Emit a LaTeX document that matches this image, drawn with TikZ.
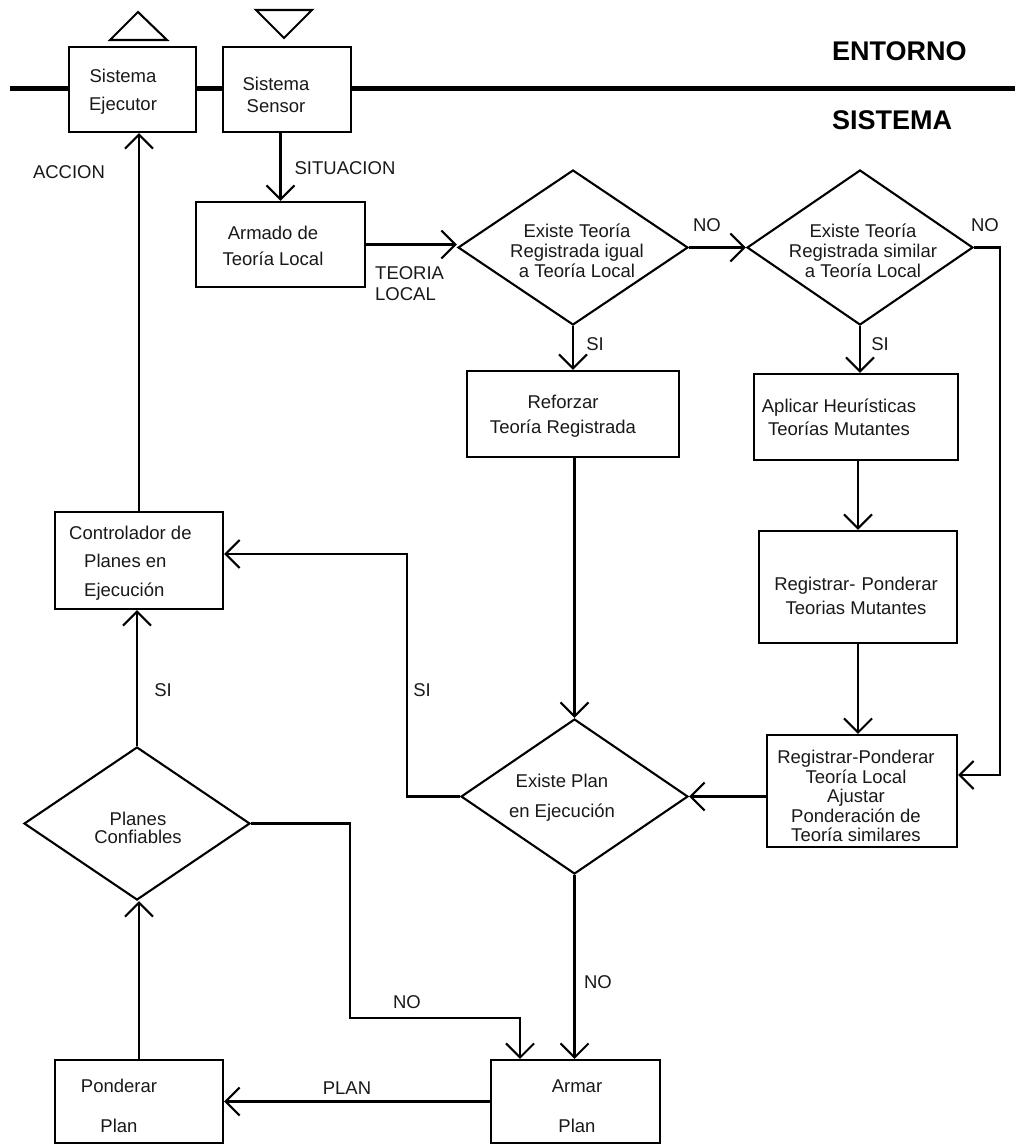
\documentclass[tikz,border=0pt]{standalone}
\usepackage{fontspec}
\setmainfont{Liberation Sans}
\usetikzlibrary{arrows.meta,shapes.geometric}
\begin{document}
\begin{tikzpicture}[x=1pt,y=-1pt,
  font=\fontsize{18.5}{20}\selectfont,
  box/.style={draw, fill=white, line width=2.1pt, inner sep=0pt},
  dia/.style={draw, diamond, line width=2.1pt, inner sep=0pt},
  txt/.style={inner sep=0pt, align=center, text=black!90},
  lbl/.style={inner sep=0pt, text=black!90},
  conn/.style={line width=2.1pt, -{Straight Barb[length=14pt,width=28pt]}},
  plain/.style={line width=2.1pt},
  head/.style={inner sep=0pt, anchor=west, font=\fontsize{27}{30}\selectfont\bfseries},
]
\useasboundingbox (0,0) rectangle (1015,1145);

% environment / system separator
\draw[line width=5pt] (10,89) -- (1015,89);
\node[head] (entorno) at (832,51) {ENTORNO};
\node[head] (sistema) at (832,120) {SISTEMA};

% triangles
\draw[plain] (110,40) -- (138,12) -- (167,40) -- cycle;
\draw[plain] (256,10) -- (312,10) -- (284,38) -- cycle;

% boxes
\node[box, minimum width=127pt, minimum height=85pt] (ejec) at (132.5,89.5) {};
\node[box, minimum width=128pt, minimum height=85pt] (sens) at (287,89.5) {};
\node[box, minimum width=169pt, minimum height=85pt] (armado) at (280.5,244.5) {};
\node[box, minimum width=212pt, minimum height=86pt] (refz) at (573,414) {};
\node[box, minimum width=204pt, minimum height=86pt] (apl) at (856,417) {};
\node[box, minimum width=198pt, minimum height=112pt] (regm) at (858,587) {};
\node[box, minimum width=190pt, minimum height=112pt] (rp) at (862,791) {};
\node[box, minimum width=168pt, minimum height=97pt] (ctrl) at (139,560.5) {};
\node[box, minimum width=168pt, minimum height=83pt] (pond) at (139,1101.5) {};
\node[box, minimum width=169pt, minimum height=83pt] (armar) at (575.5,1101.5) {};

% diamonds
\node[dia, minimum width=230pt, minimum height=155pt] (d1) at (573,247.5) {};
\node[dia, minimum width=226pt, minimum height=155pt] (d2) at (860,247.5) {};
\node[dia, minimum width=227pt, minimum height=155pt] (d3) at (574.5,796.5) {};
\node[dia, minimum width=226pt, minimum height=153pt] (d4) at (137,823.5) {};

% texts
\node[txt, font=\fontsize{18.5}{28}\selectfont] (ejec-t) at (123,92) {Sistema\\Ejecutor};
\node[txt, font=\fontsize{18.5}{22}\selectfont] (sens-t) at (276,95) {Sistema\\Sensor};
\node[txt, font=\fontsize{18.5}{26}\selectfont] (armado-t) at (273,246) {Armado de\\Teoría Local};
\node[txt, font=\fontsize{18.5}{25}\selectfont] (refz-t) at (563,416) {Reforzar\\Teoría Registrada};
\node[txt, font=\fontsize{18.5}{23}\selectfont] (apl-t) at (839,417) {Aplicar Heurísticas\\Teorías Mutantes};
\node[txt, font=\fontsize{18.5}{24}\selectfont] (regm-t) at (856,596) {Registrar-\,\,Ponderar\\Teorias Mutantes};
\node[txt, font=\fontsize{18.5}{19.5}\selectfont] (rp-t) at (856,796) {Registrar-Ponderar\\Teoría Local\\Ajustar\\Ponderación de\\Teoría similares};
\node[txt, align=left, anchor=west, font=\fontsize{18.5}{28.5}\selectfont] (ctrl-t) at (69,563) {Controlador de\\\hspace*{15pt}Planes en\\\hspace*{15pt}Ejecución};
\node[txt, font=\fontsize{18.5}{40}\selectfont] (pond-t) at (119,1106) {Ponderar\\Plan};
\node[txt, font=\fontsize{18.5}{40}\selectfont] (armar-t) at (577,1106) {Armar\\Plan};
\node[txt] (d1-t) at (577,251) {Existe Teoría\\Registrada igual\\a Teoría Local};
\node[txt] (d2-t) at (863,251) {Existe Teoría\\Registrada similar\\a Teoría Local};
\node[txt, font=\fontsize{18.5}{30}\selectfont] (d3-t) at (562,798) {Existe Plan\\en Ejecución};
\node[txt, font=\fontsize{18.5}{18}\selectfont] (d4-t) at (138,828) {Planes\\Confiables};

% connector labels
\node[lbl] (l-accion) at (69,172) {ACCION};
\node[lbl] (l-sit) at (345,168) {SITUACION};
\node[txt, align=left, anchor=west, font=\fontsize{18.5}{21}\selectfont] (l-teo) at (375,284) {TEORIA\\LOCAL};
\node[lbl] (l-no1) at (707,225) {NO};
\node[lbl] (l-no2) at (985,225) {NO};
\node[lbl] (l-si1) at (595,344) {SI};
\node[lbl] (l-si2) at (880,344) {SI};
\node[lbl] (l-si3) at (422,690) {SI};
\node[lbl] (l-si4) at (163,690) {SI};
\node[lbl] (l-no3) at (407,1002) {NO};
\node[lbl] (l-no4) at (598,982) {NO};
\node[lbl] (l-plan) at (347,1088) {PLAN};

% helper coordinates for routed connectors
\coordinate (rr) at (1000,0);
\coordinate (sx) at (407,0);
\coordinate (nx) at (350,1018);
\coordinate (ax) at (520,1018);
\coordinate (rpin) at ([yshift=16pt]rp.east);
\coordinate (ctrlin) at ([yshift=6.5pt]ctrl.east);

% connectors
\draw[conn] (ctrl.north) -- (ctrl.north |- ejec.south);
\draw[conn] (armado.north |- sens.south) -- (armado.north);
\draw[conn] (armado.east) -- (armado.east -| d1.west);
\draw[conn] (d1.east) -- (d2.west);
\draw[conn] (d1.south) -- (d1.south |- refz.north);
\draw[conn] (d2.south) -- (d2.south |- apl.north);
\draw[conn] (refz.south -| d3.north) -- (d3.north);
\draw[conn] (apl.south -| regm.north) -- (regm.north);
\draw[conn] (regm.south) -- (regm.south |- rp.north);
\draw[conn] (d2.east) -- (d2.east -| rr) -- (rr |- rpin) -- (rpin);
\draw[conn] (d3.east -| rp.west) -- (d3.east);
\draw[conn] (d3.west) -- (d3.west -| sx) -- (sx |- ctrlin) -- (ctrlin);
\draw[conn] (d4.north) -- (d4.north |- ctrl.south);
\draw[conn] (d4.east) -- (d4.east -| nx) -- (nx) -- (ax) -- (ax |- armar.north);
\draw[conn] (d3.south) -- (d3.south |- armar.north);
\draw[conn] (armar.west) -- (armar.west -| pond.east);
\draw[conn] (pond.north) -- (pond.north |- d4.south);
\end{tikzpicture}
\end{document}
